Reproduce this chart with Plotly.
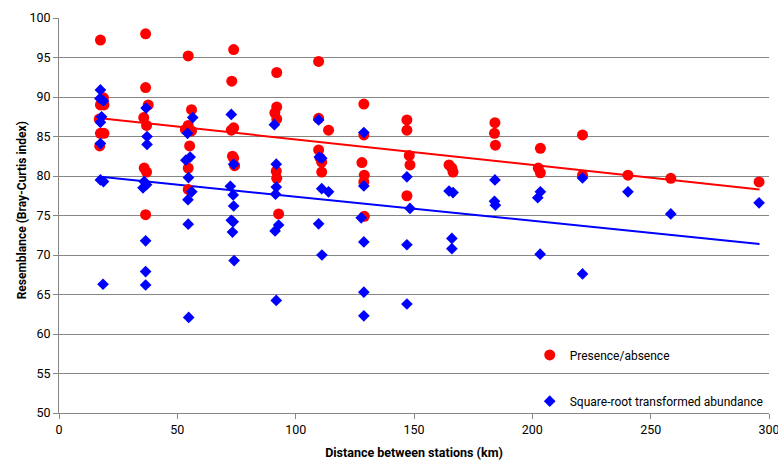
import plotly.graph_objects as go

# Presence/absence (red circles)
pa_x = [17.5, 18.8, 17.5, 19.0, 17.0, 17.5, 19.0, 17.2,
        36.6, 36.6, 37.7, 35.8, 37.0, 36.0, 37.0, 36.6,
        54.6, 56.0, 54.6, 53.4, 56.0, 55.2, 54.6, 54.6,
        73.8, 73.0, 73.8, 72.8, 73.3, 73.8, 74.2,
        92.0, 92.0, 91.2, 92.0, 91.8, 92.0, 92.8,
        109.7, 109.7, 113.9, 109.7, 110.3, 111.0, 111.0,
        128.8, 128.8, 128.0, 129.0, 128.8, 129.0,
        147.0, 147.0, 148.0, 148.3, 147.0,
        164.8, 166.0, 166.5,
        184.2, 184.0, 184.4,
        203.4, 202.5, 203.4,
        221.2, 221.2,
        240.4, 258.5, 295.8]
pa_y = [97.2, 89.9, 89.0, 89.0, 87.2, 85.4, 85.4, 83.8,
        98.0, 91.2, 89.0, 87.4, 86.4, 81.0, 80.5, 75.1,
        95.2, 88.4, 86.4, 85.9, 85.7, 83.8, 81.0, 78.3,
        96.0, 92.0, 86.1, 85.8, 82.5, 82.25, 81.3,
        93.1, 88.75, 88.0, 87.2, 80.6, 79.7, 75.2,
        94.5, 87.3, 85.8, 83.3, 82.3, 81.75, 80.5,
        89.1, 85.2, 81.7, 80.1, 79.25, 74.9,
        87.1, 85.8, 82.6, 81.4, 77.5,
        81.4, 81.0, 80.5,
        86.75, 85.4, 83.9,
        83.5, 81.0, 80.4,
        85.2, 80.1,
        80.1, 79.7, 79.25]

# Square-root transformed abundance (blue diamonds)
sr_x = [17.5, 17.3, 18.8, 18.0, 17.5, 17.5, 17.5, 18.8, 18.6,
        36.8, 37.2, 37.2, 36.0, 37.0, 35.5, 36.6, 36.6, 36.6,
        56.5, 54.3, 55.4, 53.6, 54.7, 56.1, 54.5, 54.6, 54.8,
        72.8, 73.8, 72.4, 73.6, 73.8, 72.8, 73.6, 73.3, 74.0,
        91.0, 91.8, 91.8, 91.5, 92.8, 91.3, 91.8,
        109.7, 110.0, 111.0, 111.0, 113.9, 109.7, 111.1,
        128.8, 128.8, 127.7, 128.8, 128.8, 128.8,
        147.0, 148.3, 147.0, 147.0,
        164.8, 166.5, 166.0, 166.0,
        184.2, 184.0, 184.4,
        203.4, 202.3, 203.3,
        221.2, 221.2,
        240.4, 258.5, 295.8]
sr_y = [90.9, 89.8, 89.5, 87.5, 86.8, 84.1, 79.5, 79.3, 66.3,
        88.6, 85.0, 84.0, 79.3, 78.9, 78.5, 71.8, 67.9, 66.2,
        87.4, 85.4, 82.4, 82.0, 79.8, 78.0, 77.0, 73.9, 62.1,
        87.8, 81.5, 78.7, 77.6, 76.2, 74.4, 74.2, 72.9, 69.3,
        86.5, 81.5, 78.6, 77.7, 73.8, 73.05, 64.25,
        87.1, 82.4, 82.25, 78.4, 78.0, 73.95, 70.0,
        85.5, 78.75, 74.7, 71.65, 65.3, 62.3,
        79.9, 75.9, 71.3, 63.8,
        78.1, 77.9, 72.1, 70.8,
        79.5, 76.8, 76.3,
        78.0, 77.25, 70.1,
        79.75, 67.6,
        78.0, 75.2, 76.6]

# Linear trend lines (end points)
trend_x = [17.5, 296.0]
pa_trend = [87.3, 78.3]
sr_trend = [79.9, 71.4]

FONT = "Roboto, Liberation Sans, sans-serif"
AX = "#868686"

fig = go.Figure()
fig.add_trace(go.Scatter(x=trend_x, y=pa_trend, mode="lines",
                         line=dict(color="#FF0000", width=2), showlegend=False,
                         hoverinfo="skip"))
fig.add_trace(go.Scatter(x=trend_x, y=sr_trend, mode="lines",
                         line=dict(color="#0000FF", width=2), showlegend=False,
                         hoverinfo="skip"))
fig.add_trace(go.Scatter(x=pa_x, y=pa_y, mode="markers", name="Presence/absence",
                         marker=dict(color="#FF0000", size=11, symbol="circle",
                                     line=dict(width=0)),
                         legend="legend"))
fig.add_trace(go.Scatter(x=sr_x, y=sr_y, mode="markers",
                         name="Square-root transformed abundance",
                         marker=dict(color="#0000FF", size=9, symbol="diamond",
                                     line=dict(width=0)),
                         legend="legend2"))

fig.update_layout(
    width=778, height=463,
    margin=dict(l=59, r=9, t=18, b=50, autoexpand=False),
    paper_bgcolor="white", plot_bgcolor="white",
    font=dict(family=FONT, size=12.5, color="#000000"),
    legend=dict(x=0.663, y=0.147, xanchor="left", yanchor="middle",
                bgcolor="rgba(0,0,0,0)", font=dict(size=12)),
    legend2=dict(x=0.663, y=0.03, xanchor="left", yanchor="middle",
                 bgcolor="rgba(0,0,0,0)", font=dict(size=12)),
    xaxis=dict(range=[0, 300], dtick=50, tick0=0, showgrid=False,
               showline=True, linecolor=AX, linewidth=1, ticks="outside",
               ticklen=5, tickcolor=AX, zeroline=False, automargin=False,
               ticklabeloverflow="allow",
               title=dict(text="<b>Distance between stations (km)</b>",
                          font=dict(size=12.5), standoff=12)),
    yaxis=dict(range=[50, 100], dtick=5, tick0=50, showgrid=True,
               gridcolor=AX, gridwidth=1, showline=True, linecolor=AX,
               linewidth=1, ticks="outside", ticklen=5, tickcolor=AX,
               zeroline=False, automargin=False),
    annotations=[dict(text="<b>Resemblance (Bray-Curtis index)</b>",
                      xref="paper", yref="paper", x=-37 / 710, y=0.513,
                      xanchor="center", yanchor="middle", textangle=-90,
                      showarrow=False, font=dict(size=12))],
)

fig.write_html("out.html")
